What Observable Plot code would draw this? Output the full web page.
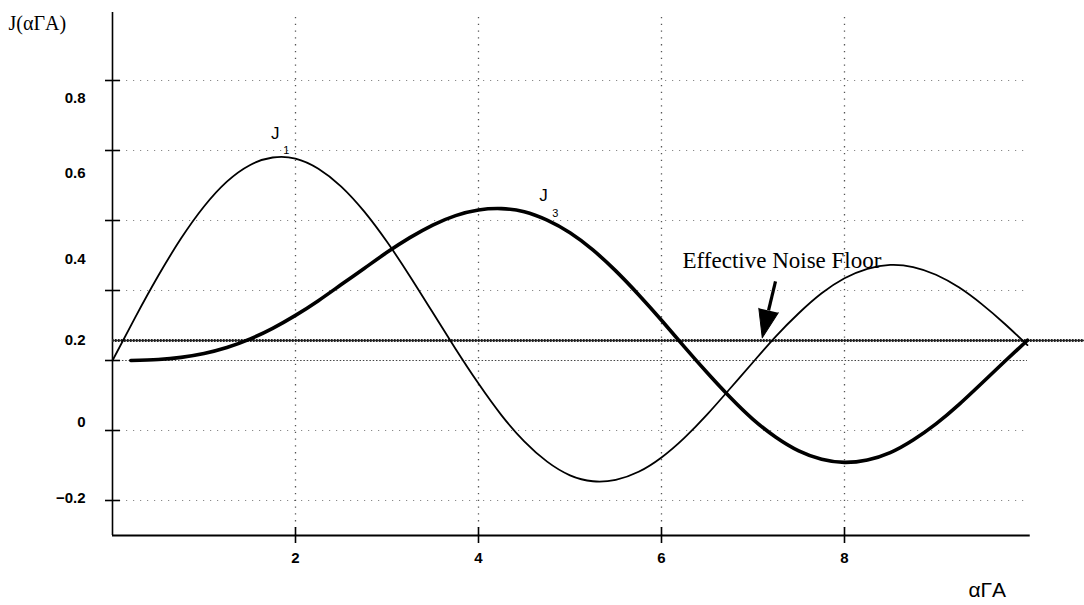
<!DOCTYPE html>
<html>
<head>
<meta charset="utf-8">
<script src="https://cdn.jsdelivr.net/npm/d3@7"></script>
<script src="https://cdn.jsdelivr.net/npm/@observablehq/plot@0.6"></script>
<style>
  html, body { margin: 0; padding: 0; background: #fff; }
  #chart { width: 1084px; height: 605px; }
</style>
</head>
<body>
<div id="chart"></div>
<script>
// Sample positions along the x axis (αΓA)
const xs = [0, 0.25, 0.5, 0.75, 1, 1.25, 1.5, 1.75, 2, 2.25, 2.5, 2.75, 3, 3.25, 3.5, 3.75, 4, 4.25, 4.5, 4.75, 5,
            5.25, 5.5, 5.75, 6, 6.25, 6.5, 6.75, 7, 7.25, 7.5, 7.75, 8, 8.25, 8.5, 8.75, 9, 9.25, 9.5, 9.75, 10];
// J1 curve values
const j1 = [0, 0.124, 0.242, 0.349, 0.440, 0.511, 0.558, 0.580, 0.577, 0.548, 0.497, 0.426, 0.339, 0.241, 0.137, 0.033, -0.066, -0.156, -0.231, -0.289, -0.328,
            -0.345, -0.341, -0.318, -0.277, -0.221, -0.154, -0.080, -0.005, 0.069, 0.135, 0.192, 0.235, 0.262, 0.273, 0.267, 0.245, 0.209, 0.161, 0.105, 0.044];
// J3 curve values (thick line starts a little right of the axis)
const j3x = [0.2, 0.5, 0.75, 1, 1.25, 1.5, 1.75, 2, 2.25, 2.5, 2.75, 3, 3.25, 3.5, 3.75, 4, 4.25, 4.5, 4.75, 5,
             5.25, 5.5, 5.75, 6, 6.25, 6.5, 6.75, 7, 7.25, 7.5, 7.75, 8, 8.25, 8.5, 8.75, 9, 9.25, 9.5, 9.75, 10];
const j3 = [0.0, 0.003, 0.009, 0.020, 0.037, 0.061, 0.092, 0.129, 0.171, 0.217, 0.263, 0.309, 0.351, 0.387, 0.414, 0.430, 0.434, 0.425, 0.401, 0.365,
            0.316, 0.256, 0.188, 0.115, 0.039, -0.035, -0.105, -0.168, -0.219, -0.258, -0.282, -0.291, -0.284, -0.263, -0.227, -0.181, -0.126, -0.065, -0.003, 0.058];

// Effective noise floor level
const noiseFloor = [0.057];

// Axis ticks / grid
const xTicks = [2, 4, 6, 8];
const yTicks = [-0.4, -0.2, 0, 0.2, 0.4, 0.6, 0.8];
const yGrid = [-0.4, -0.2, 0.2, 0.4, 0.6, 0.8];
// Printed y tick labels and where they sit on the scan
const yTickLabels = ["0.8", "0.6", "0.4", "0.2", "0", "\u22120.2"];
const yLabelAt = [0.75, 0.535, 0.29, 0.057, -0.177, -0.394];

const j1Data = xs.map((x, i) => ({x, y: j1[i]}));
const j3Data = j3x.map((x, i) => ({x, y: j3[i]}));

const serif = "'Liberation Serif', 'DejaVu Serif', serif";
const narrow = "'Liberation Sans Narrow', 'Liberation Sans', Arial, sans-serif";
const sans = "'Liberation Sans', Arial, sans-serif";

const chart = Plot.plot({
  width: 1084,
  height: 605,
  marginLeft: 112,
  marginRight: 0,
  marginTop: 10,
  marginBottom: 70,
  style: {background: "#fff", color: "#000", fontFamily: sans},
  x: {domain: [0, 10.623], axis: null},
  y: {domain: [-0.5, 1.0], axis: null},
  marks: [
    // dotted grid
    Plot.ruleY(yGrid, {y: d => d, x1: 0, x2: 10, stroke: "#8a8a8a", strokeWidth: 1.2, strokeDasharray: "1.2,5.8"}),
    Plot.ruleY([0], {x1: 0, x2: 10, stroke: "#444", strokeWidth: 1.2, strokeDasharray: "1.5,1.8"}),
    Plot.ruleX(xTicks, {x: d => d, y1: -0.5, y2: 0.98, stroke: "#555", strokeWidth: 1.3, strokeDasharray: "1.3,5.5"}),
    // axes
    Plot.ruleX([0], {y1: -0.5, y2: 0.994, stroke: "#000", strokeWidth: 1.6}),
    Plot.ruleY([-0.5], {x1: 0, x2: 10.03, stroke: "#000", strokeWidth: 1.8}),
    Plot.ruleY(yTicks, {y: d => d, x1: 0, x2: 0, insetLeft: -7, insetRight: -8, stroke: "#000", strokeWidth: 1.6}),
    Plot.ruleX(xTicks, {x: d => d, y1: -0.5, y2: -0.5, insetTop: -8, insetBottom: -8, stroke: "#000", strokeWidth: 1.6}),
    Plot.axisX(xTicks, {tickSize: 0, tickPadding: 17, label: null, fontSize: 15, fontWeight: "bold", fontFamily: narrow}),
    Plot.text(yTickLabels, {x: 0, y: (d, i) => yLabelAt[i], text: d => d, dx: -27, textAnchor: "end", fontSize: 15, fontWeight: "bold", fontFamily: narrow}),
    // noise floor (rope-like thick line)
    Plot.ruleY(noiseFloor, {y: d => d, stroke: "#333", strokeWidth: 1.4}),
    Plot.ruleY(noiseFloor, {y: d => d, stroke: "#222", strokeWidth: 3, strokeDasharray: "1.6,1.4"}),
    // curves
    Plot.line(j1Data, {x: "x", y: "y", curve: "natural", stroke: "#000", strokeWidth: 1.8}),
    Plot.line(j3Data, {x: "x", y: "y", curve: "natural", stroke: "#000", strokeWidth: 3.6}),
    // curve labels
    Plot.text(["J"], {x: 1.78, y: 0.649, fontSize: 17, fontFamily: sans}),
    Plot.text(["1"], {x: 1.90, y: 0.600, fontSize: 11, fontFamily: sans}),
    Plot.text(["J"], {x: 4.71, y: 0.471, fontSize: 17, fontFamily: sans}),
    Plot.text(["3"], {x: 4.84, y: 0.420, fontSize: 11, fontFamily: sans}),
    // noise floor annotation
    Plot.text(["Effective Noise Floor"], {x: 6.23, y: 0.286, textAnchor: "start", fontSize: 23, fontFamily: serif}),
    Plot.link([0], {x1: 7.246, y1: 0.226, x2: 7.17, y2: 0.143, stroke: "#000", strokeWidth: 3.2}),
    Plot.vector([0], {x: 7.17, y: 0.143, length: 28, r: 10, rotate: 193, shape: "spike", anchor: "start", fill: "#000", stroke: "#000", strokeWidth: 1}),
    // axis titles
    Plot.text(["J(\u03b1\u0393A)"], {x: -1.137, y: 0.963, textAnchor: "start", fontSize: 20, fontFamily: serif}),
    Plot.text(["\u03b1\u0393A"], {x: 9.56, y: -0.657, fontSize: 21, fontFamily: sans})
  ]
});
document.getElementById("chart").appendChild(chart);
</script>
</body>
</html>
